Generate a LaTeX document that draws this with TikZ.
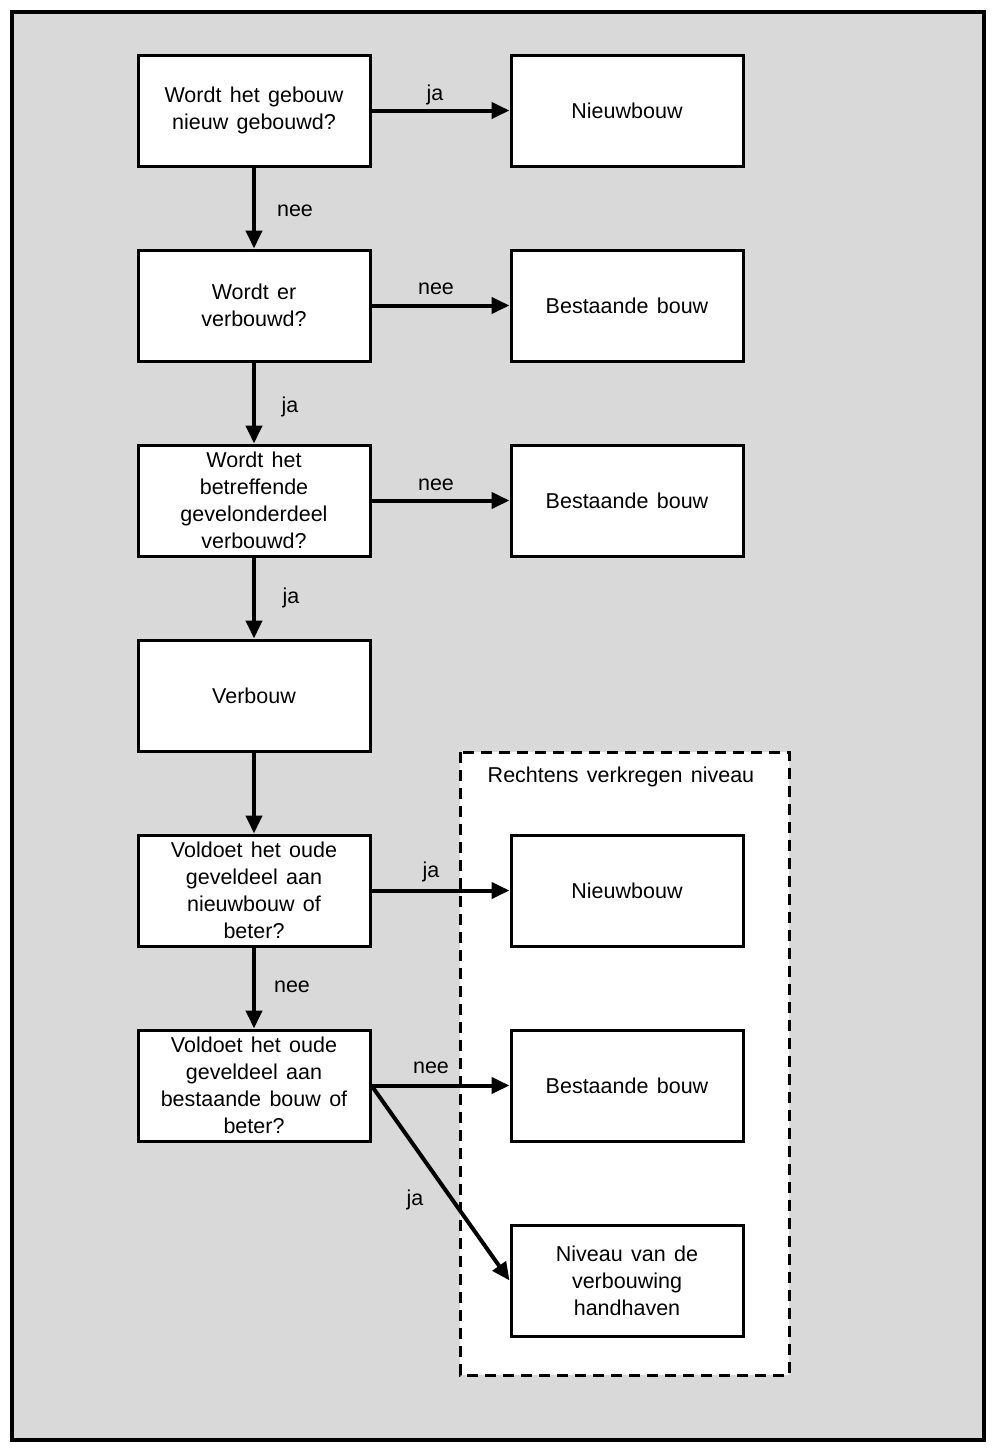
\documentclass[tikz,border=0pt]{standalone}
\usepackage{fontspec}
\setmainfont[WordSpace={1.4}]{Liberation Sans}
\usetikzlibrary{arrows.meta}
\definecolor{bggray}{RGB}{217,217,217}
\begin{document}
\begin{tikzpicture}[x=1pt,y=-1pt,
  box/.style={draw=black,line width=3pt,fill=white,minimum width=232pt,minimum height=111pt,inner sep=0pt,align=center,font=\fontsize{21.5}{27}\selectfont},
  arr/.style={line width=4pt,-{Triangle[length=18pt,width=16pt]}},
  lab/.style={font=\fontsize{21.5}{24}\selectfont,inner sep=0pt}]
\useasboundingbox (0,0) rectangle (996,1454);
\draw[line width=3.2pt,fill=bggray] (12,12) rectangle (984,1440);
\draw[line width=3pt,dash pattern=on 11pt off 7pt,fill=white] (460,752) rectangle (789,1375);
\node[lab] (title) at (621,777) {Rechtens verkregen niveau};
\node[box] (q1) at (254,110.5) {Wordt het gebouw\\nieuw gebouwd?};
\node[box] (q2) at (254,305.5) {Wordt er\\verbouwd?};
\node[box] (q3) at (254,500.5) {Wordt het\\betreffende\\gevelonderdeel\\verbouwd?};
\node[box] (v) at (254,695.5) {Verbouw};
\node[box] (q5) at (254,890.5) {Voldoet het oude\\geveldeel aan\\nieuwbouw of\\beter?};
\node[box] (q6) at (254,1085.5) {Voldoet het oude\\geveldeel aan\\bestaande bouw of\\beter?};
\node[box] (r1) at (627,110.5) {Nieuwbouw};
\node[box] (r2) at (627,305.5) {Bestaande bouw};
\node[box] (r3) at (627,500.5) {Bestaande bouw};
\node[box] (r5) at (627,890.5) {Nieuwbouw};
\node[box] (r6) at (627,1085.5) {Bestaande bouw};
\node[box] (r7) at (627,1280.5) {Niveau van de\\verbouwing\\handhaven};
\draw[arr] (q1) -- (r1);
\draw[arr] (q2) -- (r2);
\draw[arr] (q3) -- (r3);
\draw[arr] (q5) -- (r5);
\draw[arr] (q6) -- (r6);
\draw[arr] (q6.east) -- (r7.west);
\draw[arr] (q1) -- (q2);
\draw[arr] (q2) -- (q3);
\draw[arr] (q3) -- (v);
\draw[arr] (v) -- (q5);
\draw[arr] (q5) -- (q6);
\node[lab] (l1) at (435,95) {ja};
\node[lab] (l2) at (436,289) {nee};
\node[lab] (l3) at (436,485) {nee};
\node[lab] (l4) at (431,872) {ja};
\node[lab] (l5) at (431,1068) {nee};
\node[lab] (l6) at (415,1200) {ja};
\node[lab] (l7) at (295,211) {nee};
\node[lab] (l8) at (290,407) {ja};
\node[lab] (l9) at (291,598) {ja};
\node[lab] (l10) at (292,987) {nee};
\end{tikzpicture}
\end{document}
